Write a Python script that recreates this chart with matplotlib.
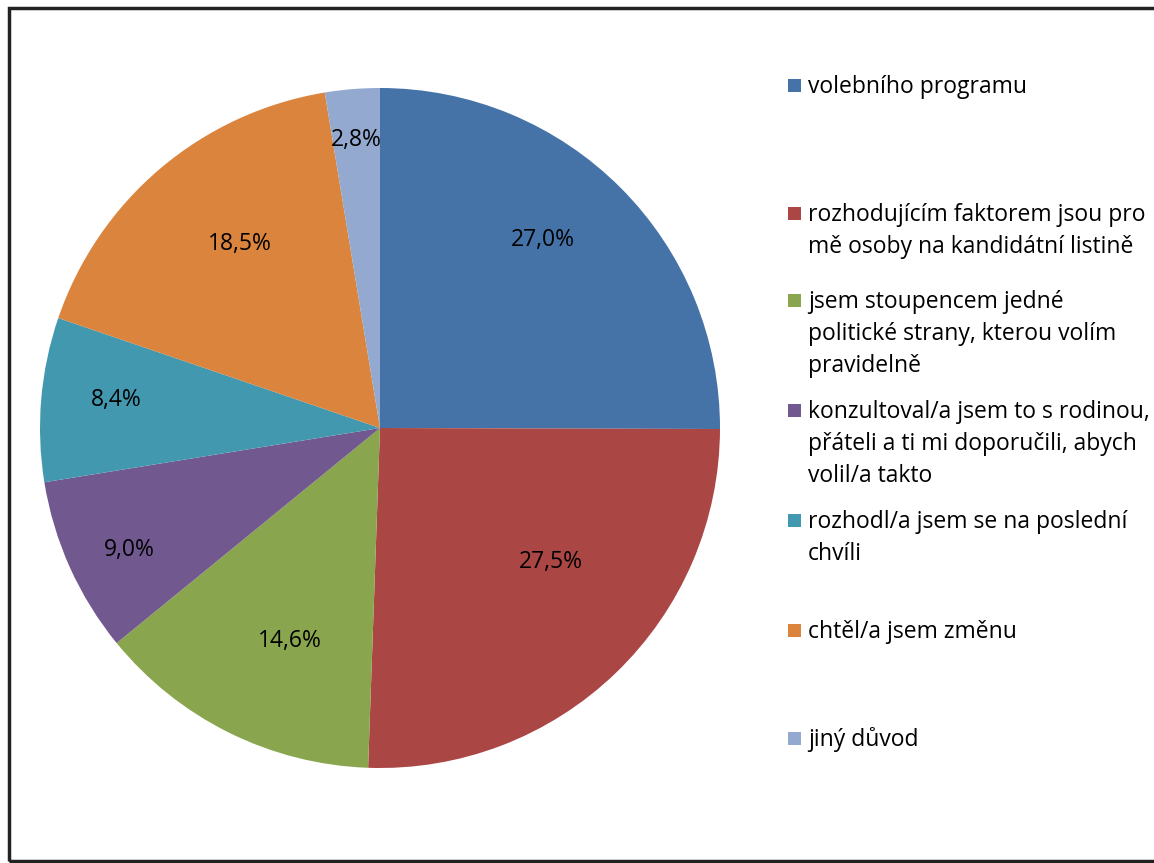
import numpy as np
import matplotlib
matplotlib.use("Agg")
import matplotlib.pyplot as plt
from matplotlib.patches import Rectangle

plt.rcParams["font.family"] = ["Open Sans", "DejaVu Sans"]

# data
reasons = [
    "volebního programu",
    "rozhodujícím faktorem jsou pro\nmě osoby na kandidátní listině",
    "jsem stoupencem jedné\npolitické strany, kterou volím\npravidelně",
    "konzultoval/a jsem to s rodinou,\npřáteli a ti mi doporučili, abych\nvolil/a takto",
    "rozhodl/a jsem se na poslední\nchvíli",
    "chtěl/a jsem změnu",
    "jiný důvod",
]
values = [27.0, 27.5, 14.6, 9.0, 8.4, 18.5, 2.8]
colors = ["#4572A7", "#AA4643", "#89A54E", "#71588F", "#4198AF", "#DB843D", "#93A9CF"]

# label placement (Excel "best fit"): radius fraction and angle nudge in degrees
label_r = [0.73, 0.64, 0.68, 0.82, 0.78, 0.68, 0.85]
label_nudge = [4.2, 8.0, 3.4, 1.8, -1.2, -2.8, 0.0]
# legend first-line baseline (pixels from top) and line step
legend_base = [93, 221, 308, 418, 528, 638, 746]
line_step = 32

W, H = 1154, 863
fig = plt.figure(figsize=(W / 100, H / 100), dpi=100)

# outer frame
fig.patches.append(Rectangle((9 / W, 2 / H), 1.2, (861 - 8) / H, transform=fig.transFigure,
                             fill=False, edgecolor="#222222", linewidth=2.5, zorder=0))

cx, cy, r = 380, 428, 340
ax = fig.add_axes([(cx - r) / W, (H - cy - r) / H, 2 * r / W, 2 * r / H])
wedges, _ = ax.pie(values, colors=colors, startangle=90, counterclock=False,
                   radius=1, wedgeprops=dict(linewidth=0))
ax.set_xlim(-1, 1)
ax.set_ylim(-1, 1)
ax.set_aspect("equal")
ax.axis("off")

for w, v, d, nd in zip(wedges, values, label_r, label_nudge):
    ang = np.deg2rad((w.theta1 + w.theta2) / 2 + nd)
    ax.text(d * np.cos(ang), d * np.sin(ang), f"{v:.1f}%".replace(".", ","),
            ha="center", va="center", fontsize=16.5, color="black")

# legend (marker sits beside the first line, each line placed on its own baseline)
for lab, col, yb in zip(reasons, colors, legend_base):
    fig.patches.append(Rectangle((788 / W, 1 - (yb - 1) / H), 13 / W, 13 / H,
                                 transform=fig.transFigure, facecolor=col, edgecolor="none"))
    for i, line in enumerate(lab.split("\n")):
        fig.text(808 / W, 1 - (yb + i * line_step) / H, line, ha="left", va="baseline",
                 fontsize=16.5, color="black")

fig.savefig("out.png", dpi=100)
